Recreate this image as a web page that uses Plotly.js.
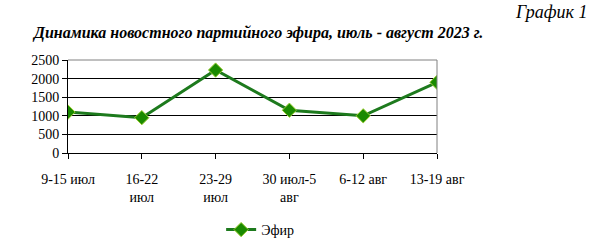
<!DOCTYPE html>
<html>
<head>
<meta charset="utf-8">
<script src="https://cdn.plot.ly/plotly-3.0.1.min.js"></script>
<style>
html,body{margin:0;padding:0;background:#fff;}
#chart{width:592px;height:246px;}
</style>
</head>
<body>
<div id="chart"></div>
<script>
const categories = ["9-15 июл", "16-22<br>июл", "23-29<br>июл", "30 июл-5<br>авг", "6-12 авг", "13-19 авг"];
const efirValues = [1100, 950, 2230, 1150, 1000, 1900];
const seriesName = "Эфир";
const yTicks = [0, 500, 1000, 1500, 2000, 2500];

const serif = "'Liberation Serif', 'Times New Roman', serif";
const trace = {
  x: categories.map((c, i) => i),
  y: efirValues,
  type: "scatter",
  mode: "lines+markers",
  name: seriesName,
  line: {color: "#1d7a1d", width: 3},
  marker: {symbol: "diamond", size: 11, color: "#1a8a00", line: {color: "#9acd32", width: 1}}
};
const layout = {
  width: 592, height: 246,
  margin: {l: 68, r: 155, t: 60, b: 93},
  paper_bgcolor: "#fff", plot_bgcolor: "#fff",
  font: {family: serif, color: "#000", size: 13},
  showlegend: true,
  legend: {x: 0.415, xref: "paper", y: 1 - 230 / 246, yref: "container", xanchor: "left", yanchor: "middle", orientation: "h",
           font: {family: serif, size: 14}, bgcolor: "rgba(0,0,0,0)"},
  xaxis: {
    range: [0, 5], tickvals: categories.map((c, i) => i), ticktext: categories,
    showgrid: false, zeroline: false, showline: true, linecolor: "#000", linewidth: 1,
    ticks: "outside", ticklen: 5, tickcolor: "#000", ticklabelstandoff: 8,
    tickfont: {family: serif, size: 14}
  },
  yaxis: {
    range: [0, 2500], tickvals: yTicks, showgrid: true, gridcolor: "#000", gridwidth: 1,
    zeroline: false, showline: true, linecolor: "#000", linewidth: 1,
    ticks: "outside", ticklen: 5, tickcolor: "#000",
    tickfont: {family: serif, size: 14}
  },
  shapes: [
    {type: "line", xref: "paper", yref: "paper", x0: 0, x1: 1, y0: 1, y1: 1, line: {color: "#808080", width: 1}, layer: "above"},
    {type: "line", xref: "paper", yref: "paper", x0: 1, x1: 1, y0: 0, y1: 1, line: {color: "#808080", width: 1}, layer: "above"}
  ],
  annotations: [
    {text: "<b><i>Динамика новостного партийного эфира, июль - август 2023 г.</i></b>", xref: "paper", yref: "paper",
     x: (30 - 68) / 369, y: 1 + (60 - 33) / 93, xanchor: "left", yanchor: "middle", showarrow: false,
     font: {family: serif, size: 16}},
    {text: "<i>График 1</i>", xref: "paper", yref: "paper",
     x: (589 - 68) / 369, y: 1 + (60 - 12) / 93, xanchor: "right", yanchor: "middle", showarrow: false,
     font: {family: serif, size: 18}}
  ]
};
Plotly.newPlot("chart", [trace], layout, {staticPlot: true, displayModeBar: false});
</script>
</body>
</html>
